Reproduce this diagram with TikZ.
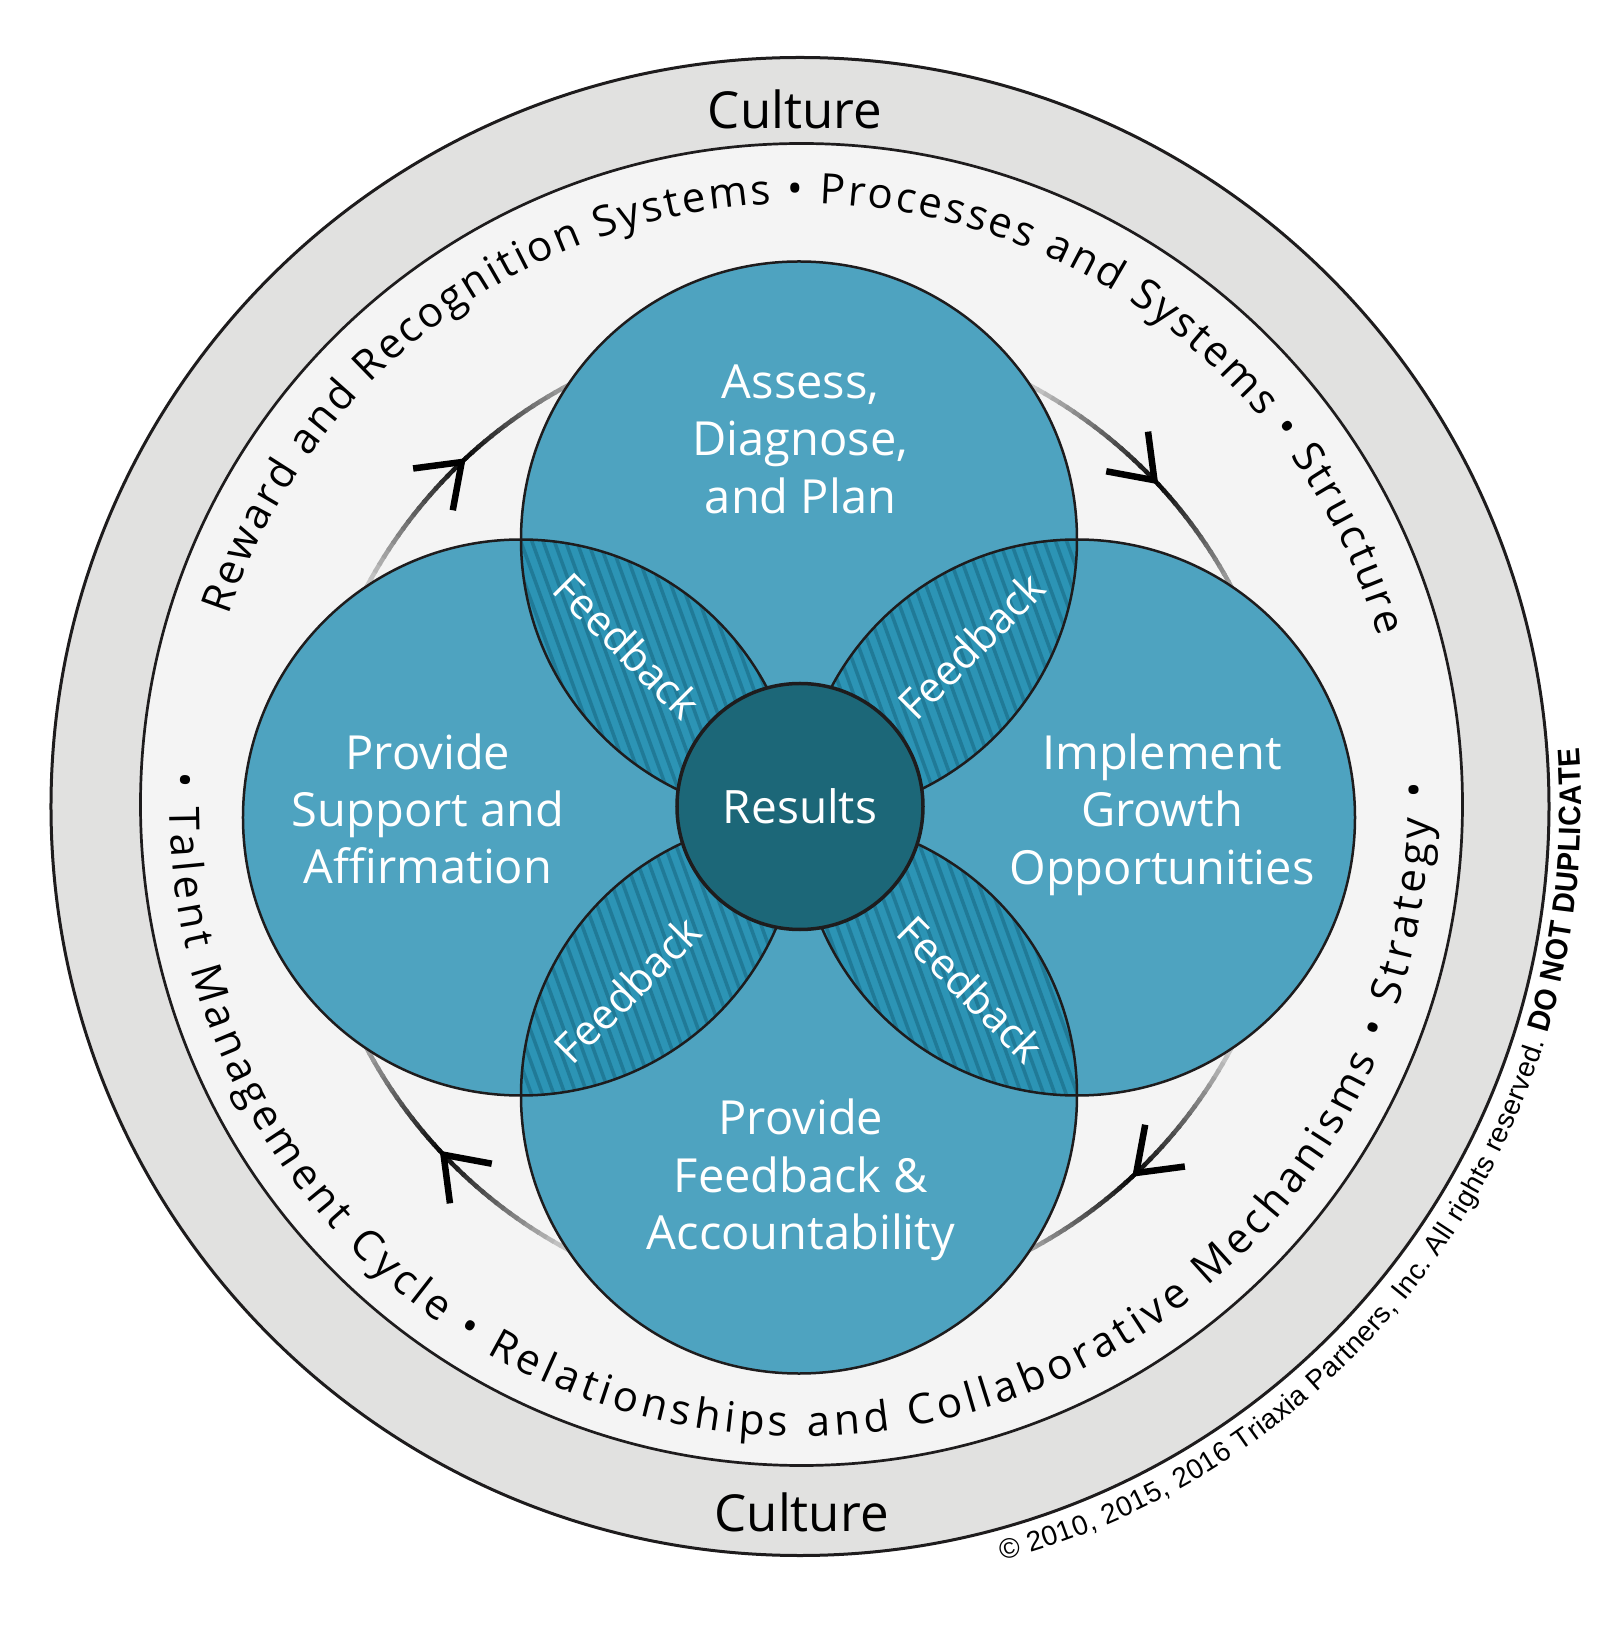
\documentclass[tikz,border=0pt]{standalone}
\usepackage{fontspec}
\setmainfont{Open Sans}
\newfontfamily\cpfont{Liberation Sans}
\newfontface\dnfont{Liberation Sans Bold}[FakeStretch=0.92]
\usepackage{tikz}
\usetikzlibrary{decorations.text}

\definecolor{ringgrey}{RGB}{225,225,224}
\definecolor{fieldgrey}{RGB}{244,244,244}
\definecolor{petalblue}{RGB}{78,163,192}
\definecolor{lensblue}{RGB}{44,148,181}
\definecolor{stripeblue}{RGB}{32,122,151}
\definecolor{resultteal}{RGB}{28,103,120}
\definecolor{edgeblack}{RGB}{30,28,29}

\newcommand\ringfont{\fontsize{42}{50}\selectfont}
\newcommand\labelfont{\fontsize{47}{57.4}\selectfont}
\newcommand\feedfont{\fontsize{42}{50}\selectfont}
\newcommand\resultfont{\fontsize{46}{55}\selectfont}
\newcommand\culturefont{\fontsize{51}{60}\selectfont}
\newcommand\cptext{\cpfont\fontsize{28}{32}\selectfont}
\newcommand\dntext{\dnfont\fontsize{31}{36}\selectfont}

\begin{document}
\begin{tikzpicture}
	[x=1pt, y=1pt,
	band/.style={fill=ringgrey, draw=edgeblack, line width=3pt},
	field/.style={fill=fieldgrey, draw=edgeblack, line width=2.7pt},
	petal/.style={circle, minimum size=556pt, inner sep=0pt, fill=petalblue},
	petaledge/.style={draw=edgeblack, line width=2.5pt},
	lensstripe/.style={draw=stripeblue, line width=3.5pt},
	cyclearc/.style={line width=4.5pt},
	chevron/.style={draw=black, line width=6.5pt, miter limit=10},
	petaltext/.style={text=white, font=\labelfont, align=center},
	feedbacktext/.style={text=white, font=\feedfont},
	culturetext/.style={font=\culturefont, anchor=base},
	resultdisc/.style={circle, minimum size=246pt, fill=resultteal, draw=edgeblack, line width=3.5pt, text=white, font=\resultfont}]
	\fill[white] (-800,-830.5) rectangle (800,806.5);
	\useasboundingbox (-800,-830.5) rectangle (800,806.5);

	% culture band and inner field
	\draw[band] (0,0) circle[radius=749];
	\draw[field] (1.5,2) circle[radius=661];
	\node[culturetext] (culturetop) at (-5,678) {Culture};
	\node[culturetext] (culturebottom) at (1.6,-725.2) {Culture};

	% ring texts
	\path[decorate, decoration={text along path, text align={fit to path},
		text={|\ringfont|Reward and Recognition Systems • Processes and Systems • Structure}}]
		(161.5:603) arc[start angle=161.5, end angle=16.4, radius=603];
	\path[decorate, decoration={text along path, text align={fit to path},
		text={|\ringfont|• Talent Management Cycle • Relationships and Collaborative Mechanisms • Strategy •}}]
		(176.8:630) arc[start angle=176.8, end angle=362.2, radius=630];
	\path[decorate, decoration={text along path, text align={fit to path},
		text={|\cptext|© 2010, 2015, 2016 Triaxia Partners, Inc. All rights reserved. |\dntext|DO NOT DUPLICATE}}]
		(-75:781) arc[start angle=-75, end angle=4.2, radius=781];

	\coordinate (cross) at (-1,-11);

	% cycle arrows
	\foreach \qa in {135,45,-45,-135}{
		\foreach \sg in {-20,...,19}{
			\pgfmathsetmacro\aa{\qa-\sg}
			\pgfmathsetmacro\ab{\qa-\sg-1.3}
			\pgfmathsetmacro\tone{max(22,98-4.2*abs(1.5-\sg))}
			\draw[cyclearc, draw=black!\tone] ([shift={(\aa:490)}]cross) arc[start angle=\aa, end angle=\ab, radius=490];
		}
		\pgfmathsetmacro\at{\qa-1.5}
		\coordinate (tip) at ([shift={(\at:490)}]cross);
		\draw[chevron] ([shift={(\at+54:49)}]tip) -- (tip) -- ([shift={(\at+126:49)}]tip);
	}

	% petals
	\node[petal] (assess) at (-1,267) {};
	\node[petal] (support) at (-279,-11) {};
	\node[petal] (growth) at (277,-11) {};
	\node[petal] (accountability) at (-1,-289) {};

	\foreach \pa/\pb/\ang in {assess/support/135, assess/growth/45, accountability/growth/-45, accountability/support/-135}{
		\begin{scope}
			\clip (\pa.center) circle[radius=278];
			\clip (\pb.center) circle[radius=278];
			\fill[lensblue] (cross) circle[radius=560];
			\foreach \st in {-40,...,40}
				\draw[lensstripe] ([shift={(\ang:196)}]cross) ++(\st*11.2,0) ++(110:-260) -- ++(110:520);
		\end{scope}
	}

	\foreach \pc in {assess,support,growth,accountability}
		\draw[petaledge] (\pc.center) circle[radius=278];

	\node[resultdisc] (results) at (0,0) {Results};

	% labels
	\node[petaltext] (assesslabel) at ([shift={(1.5,100.3)}]assess) {Assess,\\Diagnose,\\and Plan};
	\node[petaltext] (supportlabel) at ([shift={(-93,8.7)}]support) {Provide\\Support and\\Affirmation};
	\node[petaltext] (growthlabel) at ([shift={(85,3.1)}]growth) {Implement\\Growth\\Opportunities};
	\node[petaltext] (accountabilitylabel) at ([shift={(2,-84.3)}]accountability) {Provide\\Feedback \&\\Accountability};

	\node[feedbacktext, rotate=-45] (feedbacktl) at ([shift={(135:243)}]cross) {Feedback};
	\node[feedbacktext, rotate=45] (feedbacktr) at ([shift={(45:243)}]cross) {Feedback};
	\node[feedbacktext, rotate=-45] (feedbackbr) at ([shift={(-45:243)}]cross) {Feedback};
	\node[feedbacktext, rotate=45] (feedbackbl) at ([shift={(-135:243)}]cross) {Feedback};
\end{tikzpicture}
\end{document}
